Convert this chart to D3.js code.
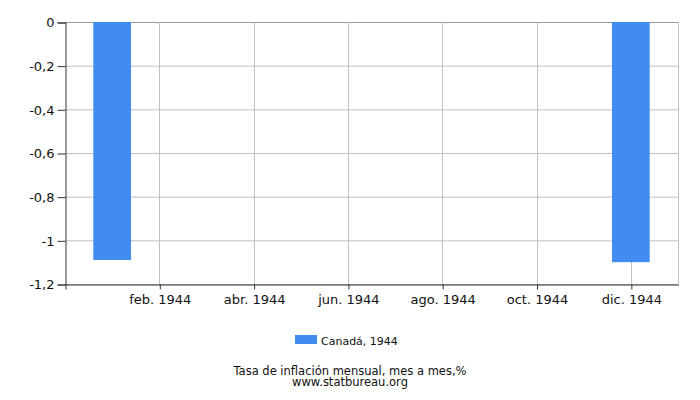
<!DOCTYPE html>
<html>
<head>
<meta charset="utf-8">
<script src="https://cdnjs.cloudflare.com/ajax/libs/d3/7.8.5/d3.min.js"></script>
<style>
  body { margin: 0; background: #fff; }
  text { font-family: "DejaVu Sans", sans-serif; fill: #111; }
</style>
</head>
<body>
<div id="chart"></div>
<script>
const months = ["ene. 1944", "feb. 1944", "mar. 1944", "abr. 1944", "may. 1944", "jun. 1944",
    "jul. 1944", "ago. 1944", "sep. 1944", "oct. 1944", "nov. 1944", "dic. 1944"];
const values = [-1.09, null, null, null, null, null, null, null, null, null, null, -1.10];
const yTicks = [0, -0.2, -0.4, -0.6, -0.8, -1, -1.2];
const seriesName = "Canadá, 1944";
const title = "Tasa de inflación mensual, mes a mes,%";
const source = "www.statbureau.org";

const width = 700;
const height = 400;
const margin = {top: 22, right: 22, bottom: 116, left: 65};

const svg = d3.select("#chart")
    .append("svg")
    .attr("width", width)
    .attr("height", height);

// months sit at 1..12, the axis runs from 0 to 13
const scaleX = d3.scaleLinear()
    .domain([0, 13])
    .range([margin.left, width - margin.right]);

const scaleY = d3.scaleLinear()
    .domain([-1.2, 0])
    .range([height - margin.bottom, margin.top]);

const fmt = (d) => d === 0 ? "0" : String(d).replace(".", ",");
const monthTicks = [2, 4, 6, 8, 10, 12];

// grid
const grid = svg.append("g").attr("class", "grid");
grid.selectAll(".hline")
    .data(yTicks)
    .enter()
    .append("line")
    .attr("x1", scaleX(0))
    .attr("x2", scaleX(13))
    .attr("y1", (d) => scaleY(d) + 0.5)
    .attr("y2", (d) => scaleY(d) + 0.5)
    .attr("stroke", (d) => d === 0 ? "#999" : "#c0c0c0");
grid.selectAll(".vline")
    .data(monthTicks.concat([13]))
    .enter()
    .append("line")
    .attr("x1", (d) => Math.round(scaleX(d)) + 0.5)
    .attr("x2", (d) => Math.round(scaleX(d)) + 0.5)
    .attr("y1", scaleY(0))
    .attr("y2", scaleY(-1.2))
    .attr("stroke", "#c0c0c0");

// bars
const barWidth = (scaleX(1) - scaleX(0)) * 0.8;
const data = values.map((v, i) => ({month: months[i], pos: i + 1, value: v}))
    .filter((d) => d.value !== null);

svg.append("g")
    .selectAll("rect")
    .data(data)
    .enter()
    .append("rect")
    .attr("x", (d) => scaleX(d.pos) - barWidth / 2)
    .attr("y", scaleY(0))
    .attr("width", barWidth)
    .attr("height", (d) => scaleY(d.value) - scaleY(0))
    .attr("fill", "#418cf0");

// axes
const yAxis = d3.axisLeft(scaleY)
    .tickValues(yTicks)
    .tickFormat(fmt)
    .tickSize(8)
    .tickPadding(3);
const groupAxisY = svg.append("g")
    .attr("transform", `translate(${margin.left + 0.5}, 0.5)`)
    .call(yAxis);
groupAxisY.select(".domain").attr("stroke", "#333");
groupAxisY.selectAll(".tick line").attr("stroke", "#333");
groupAxisY.selectAll("text").style("font-size", "13px").attr("fill", "#111");

const xAxis = d3.axisBottom(scaleX)
    .tickValues([0].concat(monthTicks))
    .tickFormat((d) => d === 0 ? "" : months[d - 1])
    .tickSize(5)
    .tickSizeOuter(0)
    .tickPadding(5);
const groupAxisX = svg.append("g")
    .attr("transform", `translate(0.5, ${height - margin.bottom + 0.5})`)
    .call(xAxis);
groupAxisX.select(".domain").attr("stroke", "#333");
groupAxisX.selectAll(".tick line").attr("stroke", "#333");
groupAxisX.selectAll("text").style("font-size", "13px").attr("fill", "#111");

// legend
const legend = svg.append("g").attr("transform", "translate(295, 335)");
legend.append("rect")
    .attr("width", 22)
    .attr("height", 9)
    .attr("fill", "#418cf0");
legend.append("text")
    .attr("x", 26)
    .attr("y", 9.5)
    .style("font-size", "11px")
    .text(seriesName);

svg.append("text")
    .attr("x", width / 2)
    .attr("y", 374.5)
    .attr("text-anchor", "middle")
    .style("font-size", "11.5px")
    .text(title);
svg.append("text")
    .attr("x", width / 2)
    .attr("y", 385.5)
    .attr("text-anchor", "middle")
    .style("font-size", "11.5px")
    .text(source);
</script>
</body>
</html>
